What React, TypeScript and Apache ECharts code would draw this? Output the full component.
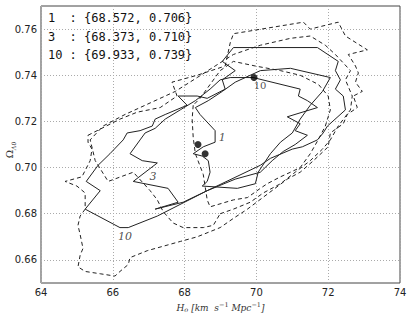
import React, { useEffect, useRef } from 'react';
import * as echarts from 'echarts';

// best-fit points (H0, Omega_Lambda) for runs 1, 3, 10
const runLabels = ['1', '3', '10'];
const bestH = [68.572, 68.373, 69.933];
const bestOmega = [0.706, 0.71, 0.739];

const yTicks = [0.66, 0.68, 0.7, 0.72, 0.74, 0.76];

// solid contours
const solid10: number[][] = [
  [65.23, 0.682], [65.65, 0.69], [65.26, 0.694], [65.59, 0.701], [65.92, 0.706], [66.29, 0.712],
  [66.4, 0.715], [66.76, 0.716], [67.1, 0.718], [67.18, 0.721], [67.46, 0.723], [68.07, 0.727],
  [67.82, 0.731], [68.35, 0.731], [68.63, 0.73], [69.13, 0.734], [69.05, 0.738], [69.41, 0.742],
  [69.05, 0.746], [69.36, 0.752], [71.7, 0.752], [72.28, 0.746], [72.2, 0.742], [72.34, 0.738],
  [72.2, 0.734], [72.42, 0.731], [72.48, 0.725], [71.98, 0.718], [71.86, 0.715], [71.7, 0.712],
  [71.28, 0.709], [71.0, 0.708], [70.39, 0.704], [70.11, 0.701], [68.63, 0.69], [67.24, 0.679],
  [66.43, 0.674], [66.2, 0.674], [65.23, 0.682],
];
const solid3: number[][] = [
  [66.76, 0.712], [66.48, 0.706], [66.82, 0.703], [67.24, 0.702], [66.57, 0.694], [67.54, 0.691],
  [67.82, 0.685], [67.18, 0.682], [67.96, 0.685], [68.63, 0.69], [69.41, 0.695], [70.11, 0.698],
  [70.44, 0.703], [70.75, 0.707], [71.08, 0.71], [71.42, 0.714], [71.08, 0.716], [71.22, 0.719],
  [70.86, 0.722], [71.7, 0.726], [71.42, 0.729], [71.17, 0.731], [71.22, 0.734], [69.91, 0.739],
  [69.27, 0.739], [68.99, 0.738], [68.71, 0.734], [68.3, 0.729], [67.88, 0.725], [67.46, 0.721],
  [67.18, 0.717], [66.9, 0.715], [66.76, 0.712],
];
const solid1: number[][] = [
  [68.85, 0.716], [68.85, 0.711], [68.52, 0.709], [68.24, 0.706], [68.49, 0.705], [68.66, 0.703],
  [68.71, 0.698], [68.63, 0.694], [68.49, 0.692], [69.47, 0.691], [69.97, 0.693], [70.05, 0.698],
  [70.39, 0.706], [70.67, 0.711], [71.0, 0.715], [71.22, 0.721], [71.5, 0.727], [71.84, 0.733],
  [72.06, 0.739], [70.95, 0.743], [70.11, 0.742], [69.41, 0.737], [69.05, 0.733], [68.66, 0.729],
  [68.3, 0.726], [68.43, 0.723], [68.85, 0.716],
];

// dashed contours
const dashed10: number[][] = [
  [65.31, 0.714], [66.2, 0.721], [66.68, 0.724], [67.32, 0.726], [67.79, 0.731], [67.65, 0.737],
  [68.35, 0.74], [69.13, 0.744], [69.27, 0.754], [69.36, 0.758], [71.31, 0.763], [71.5, 0.76],
  [72.28, 0.763], [72.48, 0.757], [73.09, 0.751], [72.56, 0.749], [72.76, 0.744], [72.84, 0.741],
  [72.76, 0.737], [72.95, 0.733], [72.7, 0.731], [72.81, 0.726], [72.53, 0.723], [72.42, 0.719],
  [72.06, 0.715], [72.0, 0.709], [71.59, 0.703], [71.22, 0.698], [70.86, 0.695], [69.75, 0.682],
  [69.36, 0.678], [68.99, 0.674], [68.35, 0.67], [67.88, 0.668], [66.96, 0.664], [66.48, 0.661],
  [66.43, 0.658], [66.2, 0.655], [66.06, 0.653], [65.65, 0.654], [65.23, 0.655], [65.03, 0.657],
  [65.09, 0.662], [65.17, 0.665], [65.09, 0.671], [65.03, 0.675], [65.09, 0.679], [65.23, 0.682],
  [65.23, 0.689], [65.0, 0.692], [64.67, 0.694], [65.14, 0.696], [65.37, 0.703], [65.42, 0.708],
  [65.31, 0.711], [65.31, 0.714],
];
const dashed3: number[][] = [
  [68.99, 0.68], [69.36, 0.682], [69.83, 0.685], [70.19, 0.689], [70.67, 0.693], [71.08, 0.698],
  [71.5, 0.703], [71.84, 0.708], [72.06, 0.712], [72.28, 0.718], [72.62, 0.725], [72.67, 0.731],
  [72.48, 0.738], [72.62, 0.742], [72.2, 0.749], [71.92, 0.753], [71.5, 0.757], [70.95, 0.756],
  [70.11, 0.753], [69.36, 0.749], [68.85, 0.744], [68.35, 0.739], [67.74, 0.733], [67.04, 0.728],
  [66.34, 0.723], [65.73, 0.718], [65.37, 0.712], [65.51, 0.703], [65.87, 0.694], [66.57, 0.698],
  [67.04, 0.69], [67.24, 0.686], [67.4, 0.681], [67.68, 0.676], [67.96, 0.674], [68.52, 0.674],
  [68.8, 0.675], [68.99, 0.68],
];
const dashed1: number[][] = [
  [68.24, 0.727], [68.21, 0.721], [68.24, 0.713], [68.3, 0.706], [68.52, 0.697], [68.57, 0.692],
  [68.63, 0.686], [68.71, 0.683], [69.36, 0.686], [69.75, 0.687], [70.11, 0.691], [70.3, 0.693],
  [70.67, 0.696], [70.95, 0.698], [71.22, 0.7], [71.5, 0.706], [71.72, 0.712], [71.92, 0.718],
  [72.06, 0.725], [72.0, 0.731], [71.73, 0.736], [71.22, 0.74], [70.67, 0.742], [69.97, 0.744],
  [69.36, 0.746], [68.99, 0.742], [68.71, 0.736], [68.43, 0.73], [68.24, 0.727],
];

// positions of contour labels 1, 3, 10
const contourLabelH = [69.05, 67.12, 66.34];
const contourLabelOmega = [0.713, 0.696, 0.67];

export default function App() {
  const ref = useRef<HTMLDivElement>(null);
  useEffect(() => {
    const chart = echarts.init(ref.current!, null, { renderer: 'svg' });
    const lineColor = '#222';
    const mkLine = (data: number[][], dashed: boolean) => ({
      type: 'line',
      data,
      symbol: 'none',
      silent: true,
      z: 2,
      lineStyle: { color: lineColor, width: 1, type: dashed ? [4, 3] : 'solid' },
    });
    const legendFont = '12px "DejaVu Sans Mono"';
    const graphics: any[] = [];
    runLabels.forEach((r, i) => {
      const y = 12 + i * 18.5;
      graphics.push({
        type: 'text', x: 48, y, z: 10,
        style: { text: r, font: legendFont, fill: '#111' },
      });
      graphics.push({
        type: 'text', x: 69.5, y, z: 10,
        style: {
          text: `: {${bestH[i].toFixed(3)}, ${bestOmega[i].toFixed(3)}}`,
          font: legendFont,
          fill: '#111',
        },
      });
    });
    // y-axis title, rotated
    graphics.push({
      type: 'text',
      x: 9,
      y: 150,
      rotation: Math.PI / 2,
      z: 10,
      style: {
        text: '{a|Ω}{b|Λ0}',
        align: 'center',
        verticalAlign: 'middle',
        rich: {
          a: { fontFamily: 'DejaVu Serif', fontSize: 10, fill: '#333', lineHeight: 14 },
          b: { fontFamily: 'DejaVu Serif', fontStyle: 'italic', fontSize: 6, fill: '#333', lineHeight: 7, verticalAlign: 'bottom' },
        },
      },
    });
    const option: any = {
      animation: false,
      backgroundColor: '#fff',
      grid: {
        left: 41,
        right: 9,
        top: 6,
        bottom: 33,
        show: true,
        borderColor: '#444',
        borderWidth: 1,
        containLabel: false,
        outerBoundsMode: 'none',
      },
      xAxis: {
        type: 'value',
        min: 64,
        max: 74,
        interval: 2,
        axisLine: { show: false },
        axisTick: { show: false },
        axisLabel: { color: '#222', fontSize: 10, fontFamily: 'DejaVu Sans', margin: 4 },
        splitLine: { show: true, lineStyle: { color: '#aaa', type: [1, 2], width: 1 } },
        name: '{i|H}{s|o}{i| [km  s}{p|−1}{i| Mpc}{p|−1}{i|]}',
        nameLocation: 'middle',
        nameGap: 16,
        nameTextStyle: {
          rich: {
            i: { fontFamily: 'DejaVu Serif', fontStyle: 'italic', fontSize: 9, color: '#333', lineHeight: 12 },
            s: { fontFamily: 'DejaVu Serif', fontStyle: 'italic', fontSize: 6.5, color: '#333', lineHeight: 6, verticalAlign: 'bottom' },
            p: { fontFamily: 'DejaVu Serif', fontSize: 6.5, color: '#333', lineHeight: 6, verticalAlign: 'top' },
          },
        },
      },
      yAxis: {
        type: 'value',
        min: 0.65,
        max: 0.77,
        axisLine: { show: false },
        axisTick: { show: false, customValues: yTicks },
        axisLabel: {
          customValues: yTicks,
          formatter: (v: number) => v.toFixed(2),
          color: '#222',
          fontSize: 10,
          fontFamily: 'DejaVu Sans',
          margin: 4,
        },
        splitLine: { show: true, lineStyle: { color: '#aaa', type: [1, 2], width: 1 } },
      },
      series: [
        mkLine(solid10, false),
        mkLine(solid3, false),
        mkLine(solid1, false),
        mkLine(dashed10, true),
        mkLine(dashed3, true),
        mkLine(dashed1, true),
        {
          type: 'scatter',
          z: 5,
          symbolSize: 7,
          itemStyle: { color: '#000' },
          data: bestH.map((h, i) => [h, bestOmega[i]]),
          label: {
            show: true,
            formatter: (p: any) => (p.dataIndex === 2 ? runLabels[2] : ''),
            position: 'bottom',
            distance: 0,
            offset: [6, -1],
            fontFamily: 'DejaVu Serif',
            fontSize: 10,
            color: '#222',
          },
        },
        {
          type: 'scatter',
          z: 6,
          symbolSize: 0,
          silent: true,
          data: contourLabelH.map((h, i) => ({ value: [h, contourLabelOmega[i]], name: runLabels[i] })),
          label: {
            show: true,
            position: 'inside',
            formatter: (p: any) => p.name,
            fontFamily: 'DejaVu Serif',
            fontStyle: 'italic',
            fontSize: 11,
            color: '#222',
          },
        },
      ],
      graphic: graphics,
    };
    chart.setOption(option);
    return () => chart.dispose();
  }, []);
  return <div ref={ref} style={{ position: 'fixed', left: 0, top: 0, width: 409, height: 316 }} />;
}
